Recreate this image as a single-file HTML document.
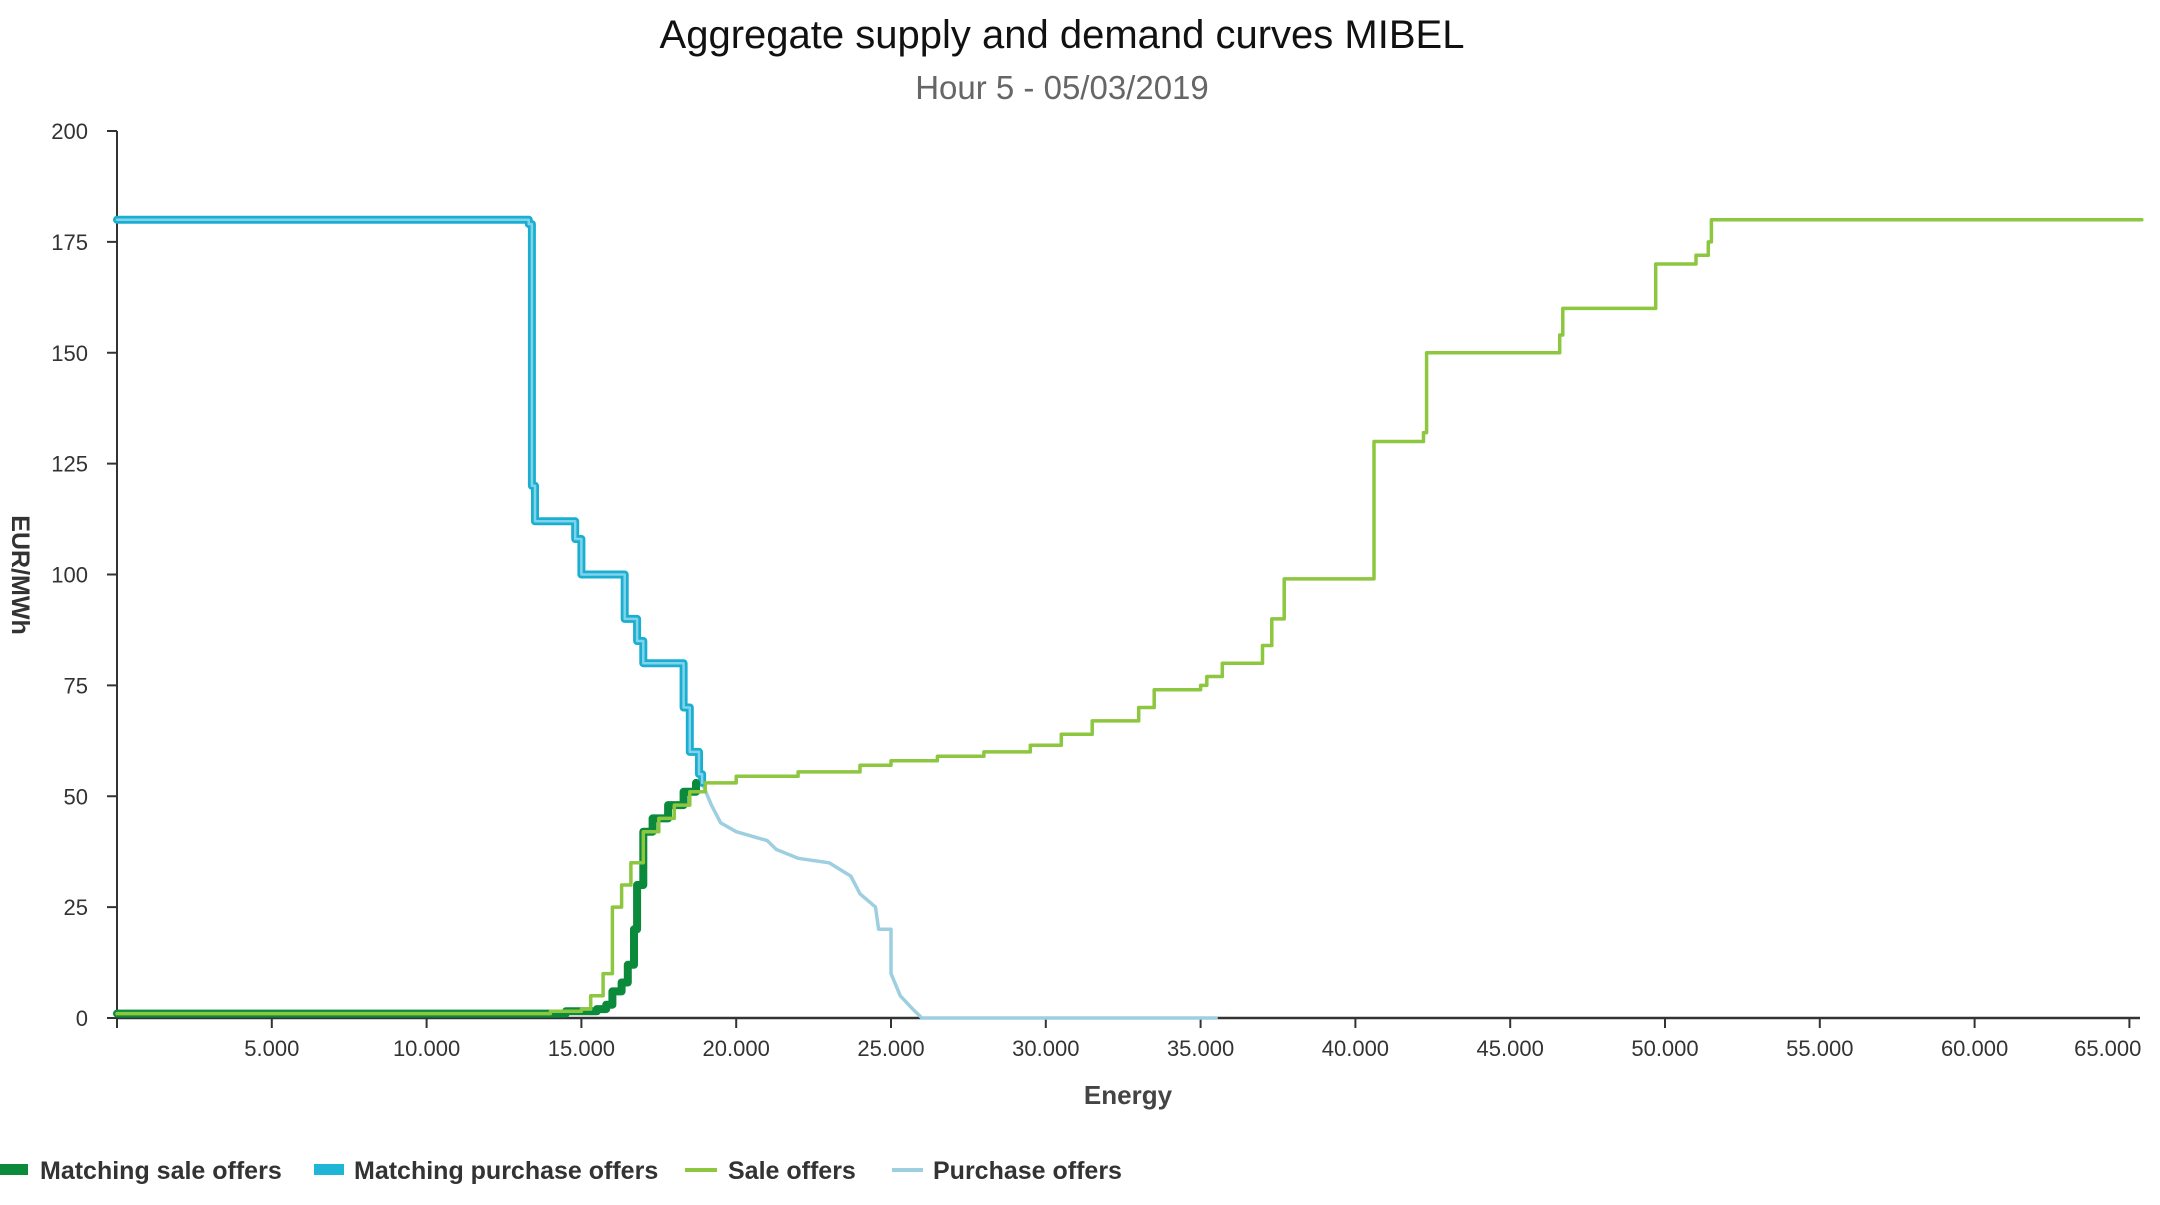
<!DOCTYPE html>
<html><head><meta charset="utf-8">
<style>
html,body{margin:0;padding:0;background:#fff;}
body{width:2160px;height:1200px;overflow:hidden;font-family:"Liberation Sans",Arial,sans-serif;}
svg text{font-family:"Liberation Sans",Arial,sans-serif;}
</style></head>
<body>
<svg id="chart" width="2160" height="1200" viewBox="0 0 2160 1200">
<text x="1062" y="48" font-size="40" text-anchor="middle" fill="#111">Aggregate supply and demand curves MIBEL</text>
<text x="1062" y="99" font-size="33" text-anchor="middle" fill="#666">Hour 5 - 05/03/2019</text>
<g id="axes"></g>
<g id="series"></g>
<text x="1128" y="1104" font-size="26" font-weight="bold" text-anchor="middle" fill="#444">Energy</text>
<text transform="translate(12,575) rotate(90)" font-size="25" font-weight="bold" text-anchor="middle" fill="#333">EUR/MWh</text>
<g font-size="25" font-weight="bold" fill="#333">
 <g><rect x="0" y="1164" width="28" height="11" fill="#0b8a3c"/><text x="40" y="1179">Matching sale offers</text></g>
 <g><rect x="314" y="1164" width="30" height="11" fill="#1fb5d6"/><text x="354" y="1179">Matching purchase offers</text></g>
 <g><line x1="685" y1="1170" x2="717" y2="1170" stroke="#8dc63f" stroke-width="4"/><text x="728" y="1179">Sale offers</text></g>
 <g><line x1="892" y1="1170" x2="923" y2="1170" stroke="#9ecfe0" stroke-width="4"/><text x="933" y="1179">Purchase offers</text></g>
</g>
</svg>
<script>
const yTicks = [0,25,50,75,100,125,150,175,200];
const xTicks = [5000,10000,15000,20000,25000,30000,35000,40000,45000,50000,55000,60000,65000];
const xTickLabels = ["5.000","10.000","15.000","20.000","25.000","30.000","35.000","40.000","45.000","50.000","55.000","60.000","65.000"];
const saleQ = [0,13000,14000,15000,15300,15700,16000,16300,16600,17000,17500,18000,18500,19000,20000,22000,24000,25000,26500,28000,29500,30500,31500,33000,33500,35000,35200,35700,36800,37000,37300,37600,37700,40500,40600,40600,42000,42200,42300,46500,46600,46700,49700,49700,50500,51000,51400,51500,65400];
const saleP = [1,1,1.5,2,5,10,25,30,35,42,45,48,51,53,54.5,55.5,57,58,59,60,61.5,64,67,70,74,75,77,80,80,84,90,90,99,99,105,130,130,132,150,150,154,160,160,170,170,172,175,180,180];
const mSaleQ = [0,13000,14500,15500,15800,16000,16300,16500,16700,16800,17000,17300,17800,18300,18700];
const mSaleP = [1,1,1.5,2,3,6,8,12,20,30,42,45,48,51,53];
const mBuyQ = [0,13200,13300,13400,13400,13500,14600,14800,15000,16300,16400,16800,17000,18200,18300,18500,18800,18900];
const mBuyP = [180,180,179,150,120,112,112,108,100,100,90,85,80,80,70,60,55,53];
const buyQ = [18900,19200,19500,20000,21000,21300,22000,23000,23700,24000,24500,24600,25000,25000,25300,25700,26000,35500];
const buyP = [53,48,44,42,40,38,36,35,32,28,25,20,20,10,5,2,0,0];

const X0=117, Y0=1018, YT=131, XR=2140;
function xs(q){return X0 + q*(154.8/5000);}
function ys(v){return Y0 - v*(Y0-YT)/200;}
const NS="http://www.w3.org/2000/svg";
function mk(tag,attrs,parent){const e=document.createElementNS(NS,tag);for(const k in attrs)e.setAttribute(k,attrs[k]);parent.appendChild(e);return e;}
const axes=document.getElementById('axes');
const ya=mk('line',{x1:X0,y1:YT,x2:X0,y2:Y0,stroke:'#333','stroke-width':2},axes);


const xa=mk('line',{x1:X0,y1:Y0,x2:XR,y2:Y0,stroke:'#333','stroke-width':2.5},axes);


yTicks.forEach(v=>{
  const t=mk('line',{x1:X0-10,y1:ys(v),x2:X0,y2:ys(v),stroke:'#333','stroke-width':2},axes);
  
  
  const l=mk('text',{x:X0-29,y:ys(v)+8,'font-size':22,'text-anchor':'end',fill:'#333'},axes);
  
  
  l.textContent=v;
});
mk('line',{x1:X0,y1:Y0,x2:X0,y2:Y0+10,stroke:'#333','stroke-width':2},axes);
xTicks.forEach((q,i)=>{
  const t=mk('line',{x1:xs(q),y1:Y0,x2:xs(q),y2:Y0+10,stroke:'#333','stroke-width':2},axes);
  
  
  const last=i===xTicks.length-1;
  const l=mk('text',{x:last?xs(q)+12:xs(q),y:Y0+38,'font-size':22,'text-anchor':last?'end':'middle',fill:'#333'},axes);
  
  
  l.textContent=xTickLabels[i];
});
const series=document.getElementById('series');
function pts(Q,P,step){
  const out=[];
  Q.forEach((q,i)=>{
    if(step&&i>0) out.push(xs(q).toFixed(1)+','+ys(P[i-1]).toFixed(1));
    out.push(xs(q).toFixed(1)+','+ys(P[i]).toFixed(1));
  });
  return out.join(' ');
}
function line(Q,P,step,color,w,name){
  const e=mk('polyline',{points:pts(Q,P,step),fill:'none',stroke:color,'stroke-width':w,'stroke-linejoin':'round','stroke-linecap':'round'},series);
  
  
  return e;
}
line(buyQ,buyP,false,'#9ecfe0',3.5,'purchase-offers-line');
line(mBuyQ,mBuyP,true,'#1aaed0',8,'matching-purchase-line');
line(mBuyQ,mBuyP,true,'#7fd3ea',2.5,'matching-purchase-line-inner');
line(mSaleQ,mSaleP,true,'#0b8a3c',8,'matching-sale-line');
line(saleQ,saleP,true,'#8dc63f',3.5,'sale-offers-line');
</script>
</body></html>
